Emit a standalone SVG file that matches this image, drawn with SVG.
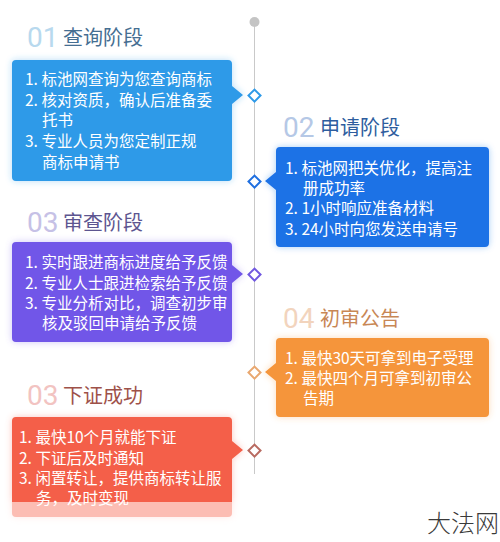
<svg xmlns="http://www.w3.org/2000/svg" width="500" height="542" viewBox="0 0 500 542">
<defs>
<style>
.num{font-family:Roboto,"Open Sans","Liberation Sans",sans-serif;font-size:28px;font-weight:400}
.ttl{font-family:"Noto Sans CJK SC","Noto Sans",sans-serif;font-size:20px}
.body{font-family:"Noto Sans CJK SC","Noto Sans",sans-serif;font-size:15.5px;fill:#ffffff}
.dia{fill:#ffffff;stroke-width:2}
.wm{font-family:"Noto Sans CJK SC",sans-serif;font-size:24px;fill:#3a3a3a;font-weight:300}
</style>
<filter id="glow" x="-10%" y="-15%" width="120%" height="130%">
<feGaussianBlur in="SourceGraphic" stdDeviation="3.5" result="b"/>
<feComponentTransfer in="b" result="c"><feFuncA type="linear" slope="0.35"/></feComponentTransfer>
<feMerge><feMergeNode in="c"/><feMergeNode in="SourceGraphic"/></feMerge>
</filter>
</defs>
<rect width="500" height="542" fill="#ffffff"/>

<g id="connectors">
<line x1="254.5" y1="22" x2="254.5" y2="474" stroke="#c9c9c9" stroke-width="1"/>
<circle cx="254.5" cy="22" r="5" fill="#c4c4c4"/>
<rect class="dia" x="250.3" y="91.3" width="8.5" height="8.5" transform="rotate(45 254.5 95.5)" stroke="#2e9ae8"/>
<rect class="dia" x="250.3" y="177.3" width="8.5" height="8.5" transform="rotate(45 254.5 181.5)" stroke="#1f6fe0"/>
<rect class="dia" x="250.3" y="270.3" width="8.5" height="8.5" transform="rotate(45 254.5 274.5)" stroke="#7158e0"/>
<rect class="dia" x="250.3" y="368.3" width="8.5" height="8.5" transform="rotate(45 254.5 372.5)" stroke="#e9a870"/>
<rect class="dia" x="250.3" y="446.3" width="8.5" height="8.5" transform="rotate(45 254.5 450.5)" stroke="#b86a60"/>
</g>

<g id="node1">
<text class="num" x="27" y="47" fill="#b8d9ee">01</text>
<text class="ttl" x="63" y="45" fill="#456e92">查询阶段</text>
<path filter="url(#glow)" fill="#2e9ae8" d="M16,60 H228 Q232,60 232,64 V86 L243,95 L232,104 V177 Q232,181 228,181 H16 Q12,181 12,177 V64 Q12,60 16,60 Z"/>
<text class="body" x="25" y="85">1. 标池网查询为您查询商标</text>
<text class="body" x="25" y="106">2. 核对资质，确认后准备委</text>
<text class="body" x="42" y="126">托书</text>
<text class="body" x="25" y="147">3. 专业人员为您定制正规</text>
<text class="body" x="42" y="168">商标申请书</text>
</g>

<g id="node2">
<text class="num" x="283" y="137" fill="#b5c8e6">02</text>
<text class="ttl" x="320" y="135" fill="#2e5d9e">申请阶段</text>
<path filter="url(#glow)" fill="#1f72e6" d="M280,147 H485 Q489,147 489,151 V243 Q489,247 485,247 H280 Q276,247 276,243 V190 L265,181 L276,172 V151 Q276,147 280,147 Z"/>
<text class="body" x="285" y="174">1. 标池网把关优化，提高注</text>
<text class="body" x="303" y="194">册成功率</text>
<text class="body" x="285" y="214">2. 1小时响应准备材料</text>
<text class="body" x="285" y="235">3. 24小时向您发送申请号</text>
</g>

<g id="node3">
<text class="num" x="27" y="232" fill="#c6c1e6">03</text>
<text class="ttl" x="63" y="230" fill="#5d5590">审查阶段</text>
<path filter="url(#glow)" fill="#7157e8" d="M16,242 H228 Q232,242 232,246 V265 L243,274 L232,283 V338 Q232,342 228,342 H16 Q12,342 12,338 V246 Q12,242 16,242 Z"/>
<text class="body" x="25" y="268">1. 实时跟进商标进度给予反馈</text>
<text class="body" x="25" y="288.5">2. 专业人士跟进检索给予反馈</text>
<text class="body" x="25" y="309">3. 专业分析对比，调查初步审</text>
<text class="body" x="42" y="329">核及驳回申请给予反馈</text>
</g>

<g id="node4">
<text class="num" x="283" y="328" fill="#f2d4bd">04</text>
<text class="ttl" x="320" y="326" fill="#c88755">初审公告</text>
<path filter="url(#glow)" fill="#f5953b" d="M280,338 H485 Q489,338 489,342 V413 Q489,417 485,417 H280 Q276,417 276,413 V381 L265,372 L276,363 V342 Q276,338 280,338 Z"/>
<text class="body" x="285" y="364">1. 最快30天可拿到电子受理</text>
<text class="body" x="285" y="384">2. 最快四个月可拿到初审公</text>
<text class="body" x="303" y="404">告期</text>
</g>

<g id="node5">
<text class="num" x="27" y="405" fill="#f2c3c1">03</text>
<text class="ttl" x="63" y="403" fill="#9e5149">下证成功</text>
<g filter="url(#glow)">
<path fill="#f45f48" d="M16,417 H228 Q232,417 232,421 V441 L243,450 L232,459 V502 H12 V421 Q12,417 16,417 Z"/>
<path fill="#fcbdb3" d="M12,502 H232 V513 Q232,517 228,517 H16 Q12,517 12,513 Z"/>
</g>
<text class="body" x="19" y="443">1. 最快10个月就能下证</text>
<text class="body" x="19" y="463.5">2. 下证后及时通知</text>
<text class="body" x="19" y="484">3. 闲置转让，提供商标转让服</text>
<text class="body" x="36" y="504">务，及时变现</text>
</g>

<text class="wm" x="427" y="532">大法网</text>
</svg>
